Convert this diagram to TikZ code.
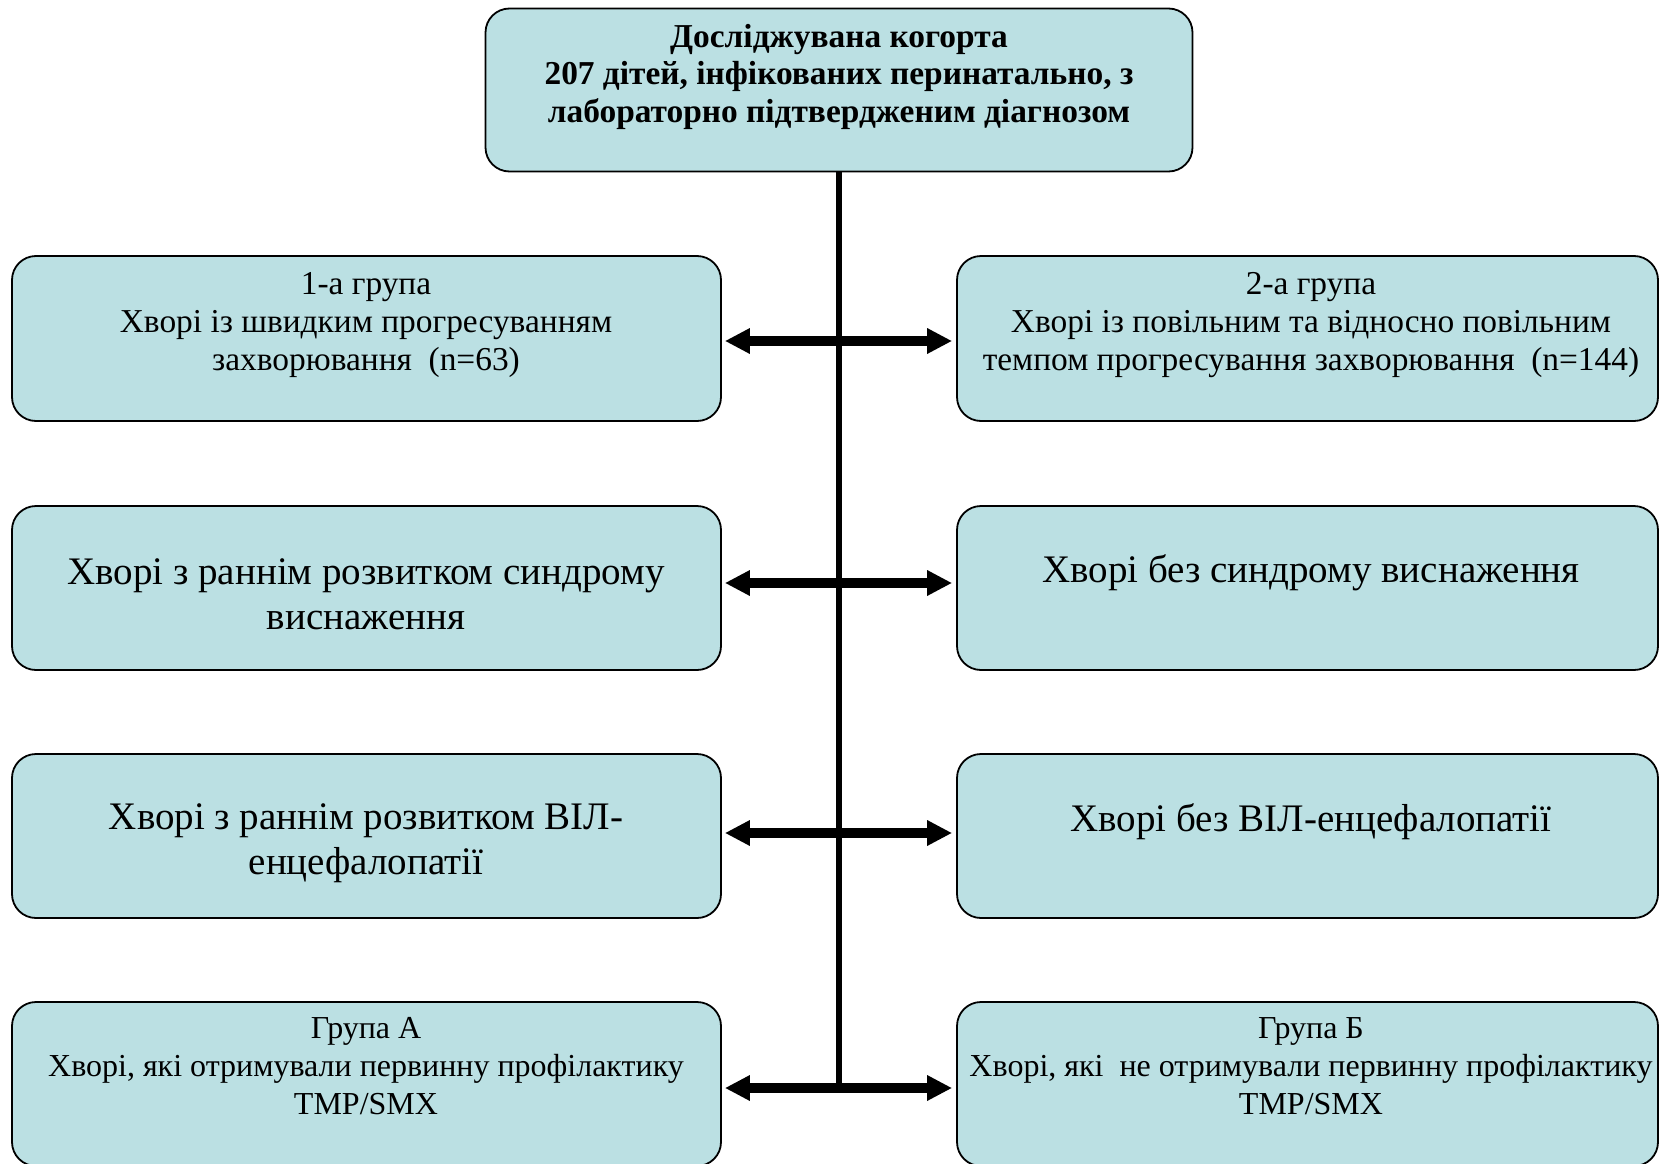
\documentclass[tikz,border=0pt]{standalone}
\usepackage{fontspec}
\setmainfont{Liberation Serif}
\usetikzlibrary{arrows.meta}
\definecolor{boxfill}{RGB}{187,224,227}
\tikzset{
  box/.style={draw=black, line width=1.8pt, fill=boxfill, rounded corners=24pt, inner sep=0pt},
  txt/.style={align=center, inner sep=0pt, font=\fontsize{32}{38}\selectfont},
  midtxt/.style={align=center, inner sep=0pt, font=\fontsize{33.4}{38}\selectfont},
  bigtxt/.style={align=center, inner sep=0pt, font=\fontsize{39}{44.5}\selectfont},
  toptxt/.style={align=center, inner sep=0pt, font=\bfseries\fontsize{33.4}{37.5}\selectfont},
  arr/.style={line width=10pt, {Triangle[length=25pt,width=24pt]}-{Triangle[length=25pt,width=24pt]}, shorten <=3pt, shorten >=4pt},
  stem/.style={line width=6pt}
}
\begin{document}
\begin{tikzpicture}[x=1pt,y=-1pt]
\useasboundingbox (0,0) rectangle (1662,1164);
% boxes
\node[box, minimum width=707pt, minimum height=163pt] (top) at (839,90) {};
\node[box, minimum width=709pt, minimum height=165pt] (L1) at (366.5,338.5) {};
\node[box, minimum width=701pt, minimum height=165pt] (R1) at (1307.5,338.5) {};
\node[box, minimum width=709pt, minimum height=164pt] (L2) at (366.5,588) {};
\node[box, minimum width=701pt, minimum height=164pt] (R2) at (1307.5,588) {};
\node[box, minimum width=709pt, minimum height=164pt] (L3) at (366.5,836) {};
\node[box, minimum width=701pt, minimum height=164pt] (R3) at (1307.5,836) {};
\node[box, minimum width=709pt, minimum height=164pt] (L4) at (366.5,1084) {};
\node[box, minimum width=701pt, minimum height=164pt] (R4) at (1307.5,1084) {};
% texts
\node[toptxt] (ttop) at (839,76.5) {Досліджувана когорта\\207 дітей, інфікованих перинатально, з\\лабораторно підтвердженим діагнозом};
\node[midtxt] (tL1) at (366,325.5) {1-а група\\Хворі із швидким прогресуванням\\захворювання\ \ (n=63)};
\node[midtxt] (tR1) at (1311,325.5) {2-а група\\Хворі із повільним та відносно повільним\\темпом прогресування захворювання\ \ (n=144)};
\node[bigtxt] (tL2) at (366,594.5) {Хворі з раннім розвитком синдрому\\виснаження};
\node[bigtxt] (tR2) at (1311,572.5) {Хворі без синдрому виснаження};
\node[bigtxt] (tL3) at (366,843) {Хворі з раннім розвитком ВІЛ-\\енцефалопатії};
\node[bigtxt] (tR3) at (1311,821.5) {Хворі без ВІЛ-енцефалопатії};
\node[txt] (tL4) at (366,1066) {Група А\\Хворі, які отримували первинну профілактику\\TMP/SMX};
\node[txt] (tR4) at (1311,1066) {Група Б\\Хворі, які\ \ не отримували первинну профілактику\\TMP/SMX};
% connectors
\coordinate (a1) at (839,341);
\coordinate (a2) at (839,583);
\coordinate (a3) at (839,833);
\coordinate (a4) at (839,1088);
\draw[stem] (top.south) -- (top.south |- a4);
\draw[arr] (L1.east |- a1) -- (R1.west |- a1);
\draw[arr] (L2.east |- a2) -- (R2.west |- a2);
\draw[arr] (L3.east |- a3) -- (R3.west |- a3);
\draw[arr] (L4.east |- a4) -- (R4.west |- a4);
\end{tikzpicture}
\end{document}
